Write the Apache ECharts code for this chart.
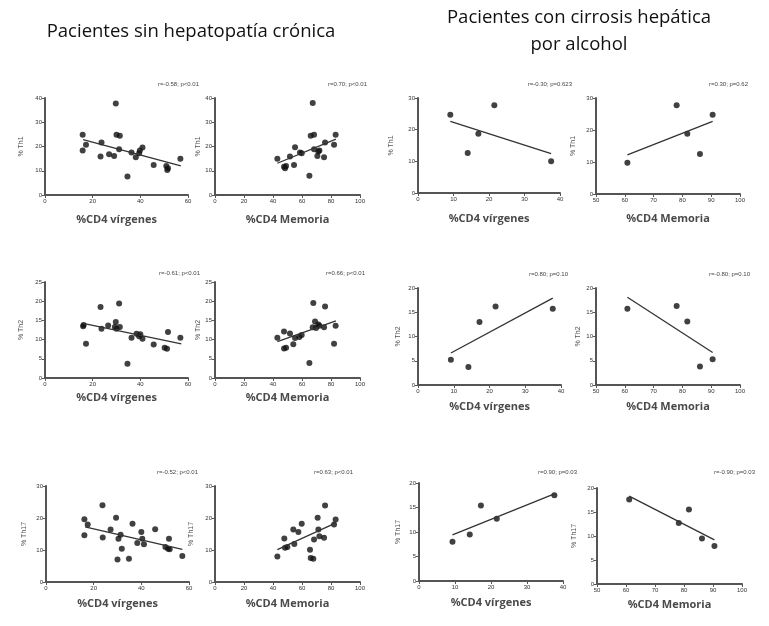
<!DOCTYPE html>
<html><head><meta charset="utf-8">
<script src="https://cdn.jsdelivr.net/npm/echarts@6/dist/echarts.min.js"></script>
<style>html,body{margin:0;padding:0;background:#fff}#c{width:769px;height:626px}</style>
</head><body><div id="c"></div>
<script>
// ---- Data ----
const titleLeft = "Pacientes sin hepatopatía crónica";
const titleRight1 = "Pacientes con cirrosis hepática";
const titleRight2 = "por alcohol";

const xNames = ["%CD4 vírgenes","%CD4 Memoria","%CD4 vírgenes","%CD4 Memoria"];
const yNames = ["% Th1","% Th2","% Th17"];
const stats = [
  "r=-0.58; p<0.01","r=0.70; p<0.01","r=-0.30; p=0.623","r=0.30; p=0.62",
  "r=-0.61; p<0.01","r=0.66; p<0.01","r=0.80; p=0.10","r=-0.80; p=0.10",
  "r=-0.52; p<0.01","r=0.63; p<0.01","r=0.90; p=0.03","r=-0.90; p=0.03"
];

// Th1
const p1 = [[15.8,24.8],[17.2,20.7],[15.8,18.3],[23.7,21.7],[23.3,15.9],[26.9,16.8],[29.0,16.1],[29.7,37.7],[30.0,24.8],[31.4,24.4],[31.1,18.9],[34.6,7.6],[36.3,17.5],[38.1,15.6],[39.5,17.2],[39.8,18.3],[40.9,19.6],[45.6,12.4],[50.9,12.0],[51.6,11.0],[51.3,10.3],[56.8,14.9]];
const fit1 = [[16,22.8],[57,12.0]];
const p2 = [[43.0,14.9],[47.6,11.7],[48.3,11.0],[49.0,12.0],[51.7,15.9],[54.5,12.4],[55.2,19.7],[58.6,17.5],[59.8,17.2],[65.1,7.9],[66.0,24.4],[67.4,37.9],[68.3,24.8],[68.3,18.9],[70.6,16.1],[71.3,17.9],[72.0,18.3],[75.2,15.6],[75.9,21.7],[82.1,20.7],[83.2,24.8]];
const fit2 = [[43,13.1],[83.4,23.0]];
const p3 = [[9.1,24.7],[14.0,12.6],[17.0,18.7],[21.5,27.7],[37.5,10.0]];
const fit3 = [[9.1,22.6],[37.5,12.4]];
const p4 = [[60.9,9.8],[78.0,27.7],[81.7,18.8],[86.1,12.5],[90.5,24.8]];
const fit4 = [[60.9,12.2],[90.5,22.7]];
// Th2
const p5 = [[16.0,13.5],[16.2,13.8],[17.2,8.9],[23.3,18.5],[23.7,12.8],[26.5,13.7],[29.3,13.3],[29.7,14.6],[30.0,12.8],[31.1,19.4],[31.4,13.3],[34.6,3.7],[36.3,10.5],[38.4,11.5],[39.5,10.9],[40.0,11.4],[40.9,10.2],[45.6,8.7],[50.2,7.9],[51.2,7.6],[51.6,12.0],[56.8,10.5]];
const fit5 = [[16,14.2],[57.2,8.9]];
const p6 = [[43.0,10.5],[47.6,12.1],[47.6,7.7],[49.0,7.9],[51.7,11.6],[54.0,8.8],[55.2,10.4],[58.2,10.7],[59.8,11.2],[65.1,3.9],[67.4,13.2],[67.8,19.5],[69.0,14.7],[69.7,13.0],[71.3,13.9],[72.0,13.6],[75.2,13.2],[75.9,18.6],[82.1,8.9],[83.2,13.6]];
const fit6 = [[43,9.5],[83.4,14.9]];
const p7 = [[9.2,5.2],[14.1,3.7],[17.2,13.0],[21.7,16.2],[37.7,15.7]];
const fit7 = [[9.2,6.6],[37.7,17.9]];
const p8 = [[60.9,15.7],[78.0,16.3],[81.7,13.1],[86.1,3.8],[90.5,5.3]];
const fit8 = [[60.9,18.1],[90.5,6.7]];
// Th17
const p9 = [[16.1,19.6],[16.1,14.6],[17.5,18.0],[23.7,24.0],[23.8,13.9],[27.1,16.4],[29.4,20.1],[30.0,7.0],[30.4,13.5],[31.3,14.8],[31.8,10.4],[34.8,7.3],[36.3,18.2],[38.3,12.2],[40.0,15.6],[40.4,13.5],[41.1,11.8],[45.8,16.5],[50.1,10.9],[51.6,13.5],[51.2,10.4],[51.9,10.2],[57.2,8.1]];
const fit9 = [[16.4,17.2],[57.2,10.2]];
const p10 = [[43.0,8.0],[47.8,13.6],[48.3,10.7],[49.9,10.9],[54.0,16.4],[54.7,11.9],[57.5,15.6],[59.8,18.2],[65.5,10.1],[66.0,7.5],[67.8,7.3],[68.3,13.3],[70.8,20.1],[71.3,16.4],[72.0,14.3],[75.2,13.8],[75.9,23.9],[82.1,18.0],[83.2,19.5]];
const fit10 = [[43,10.1],[83.4,18.5]];
const p11 = [[9.3,8.0],[14.1,9.5],[17.2,15.4],[21.6,12.7],[37.6,17.5]];
const fit11 = [[9.3,9.4],[37.6,17.8]];
const p12 = [[61.1,17.6],[78.2,12.7],[81.7,15.5],[86.2,9.5],[90.5,7.9]];
const fit12 = [[61.1,18.3],[90.5,9.2]];

// axis ranges [min,max,interval]
const xRanges = [[0,60,20],[0,100,20],[0,40,10],[50,100,10]];
const yRanges = [[0,40,10],[0,40,10],[0,30,10],[0,30,10],
                 [0,25,5],[0,25,5],[0,20,5],[0,20,5],
                 [0,30,10],[0,30,10],[0,20,5],[0,20,5]];

const points = [p1,p2,p3,p4,p5,p6,p7,p8,p9,p10,p11,p12];
const fits = [fit1,fit2,fit3,fit4,fit5,fit6,fit7,fit8,fit9,fit10,fit11,fit12];

// ---- Layout ----
const grids = [
  [45,98,143,97],[215,98,145,97],[418,98,142,95],[596,98,144,96],
  [45,282,143,96],[215,282,145,96],[418,288,143,97],[596,288,144,97],
  [46,486,143,96],[215,486,145,96],[419,483,144,98],[597,488,145,96]
];
const yNameGap = [20,10,23,19,20,11,16,14,18,20,17,19];
const xNameGap = [19,19,20,19,14,14,16,16,16,16,16,15];
const statPos = [[199,84],[367,84],[572,84],[748,84],[200,273],[365,273],[568,274],[750,274],[198,472],[353,472],[577,472],[755,472]];

const axisCol = '#555';
const opt = {animation:false, grid:[], xAxis:[], yAxis:[], series:[], graphic:[]};
for (let i=0;i<12;i++){
  const g = grids[i], col = i%4, row = Math.floor(i/4);
  opt.grid.push({left:g[0], top:g[1], width:g[2], height:g[3]});
  const xr = xRanges[col], yr = yRanges[i];
  opt.xAxis.push({gridIndex:i, type:'value', min:xr[0], max:xr[1], interval:xr[2],
    name:xNames[col], nameLocation:'middle', nameGap:xNameGap[i],
    nameTextStyle:{fontFamily:'Open Sans', fontSize:11, fontWeight:'bold', color:'#4a4a4a'},
    axisLine:{onZero:false, lineStyle:{color:axisCol, width:2}},
    axisTick:{length:3, lineStyle:{color:axisCol}},
    axisLabel:{fontSize:6, color:'#333', margin:3, fontFamily:'Liberation Sans'},
    splitLine:{show:false}});
  opt.yAxis.push({gridIndex:i, type:'value', min:yr[0], max:yr[1], interval:yr[2],
    name:yNames[row], nameLocation:'middle', nameGap:yNameGap[i], nameRotate:90,
    nameTextStyle:{fontFamily:'Liberation Sans', fontSize:7, color:'#555'},
    axisLine:{onZero:false, lineStyle:{color:axisCol, width:2}},
    axisTick:{length:3, lineStyle:{color:axisCol}},
    axisLabel:{fontSize:6, color:'#333', margin:3, fontFamily:'Liberation Sans'},
    splitLine:{show:false}});
  opt.series.push({type:'scatter', xAxisIndex:i, yAxisIndex:i, data:points[i],
    symbol:'circle', symbolSize:6, itemStyle:{color:'#111'}});
  opt.series.push({type:'line', xAxisIndex:i, yAxisIndex:i, data:fits[i],
    symbol:'none', lineStyle:{color:'#333', width:1.3}});
  opt.graphic.push({type:'text', x:statPos[i][0], y:statPos[i][1],
    style:{text:stats[i], fontSize:6, fontFamily:'Liberation Sans', fill:'#444', align:'right', verticalAlign:'middle'}});
}
const tStyle = {fontSize:18.5, fontFamily:'Open Sans', fill:'#111', align:'center', verticalAlign:'middle'};
opt.graphic.push({type:'text', x:191, y:32, style:Object.assign({text:titleLeft}, tStyle)});
opt.graphic.push({type:'text', x:579, y:18, style:Object.assign({text:titleRight1}, tStyle)});
opt.graphic.push({type:'text', x:579, y:45, style:Object.assign({text:titleRight2}, tStyle)});

const chart = echarts.init(document.getElementById('c'), null, {renderer:'canvas'});
chart.setOption(opt);
</script></body></html>
